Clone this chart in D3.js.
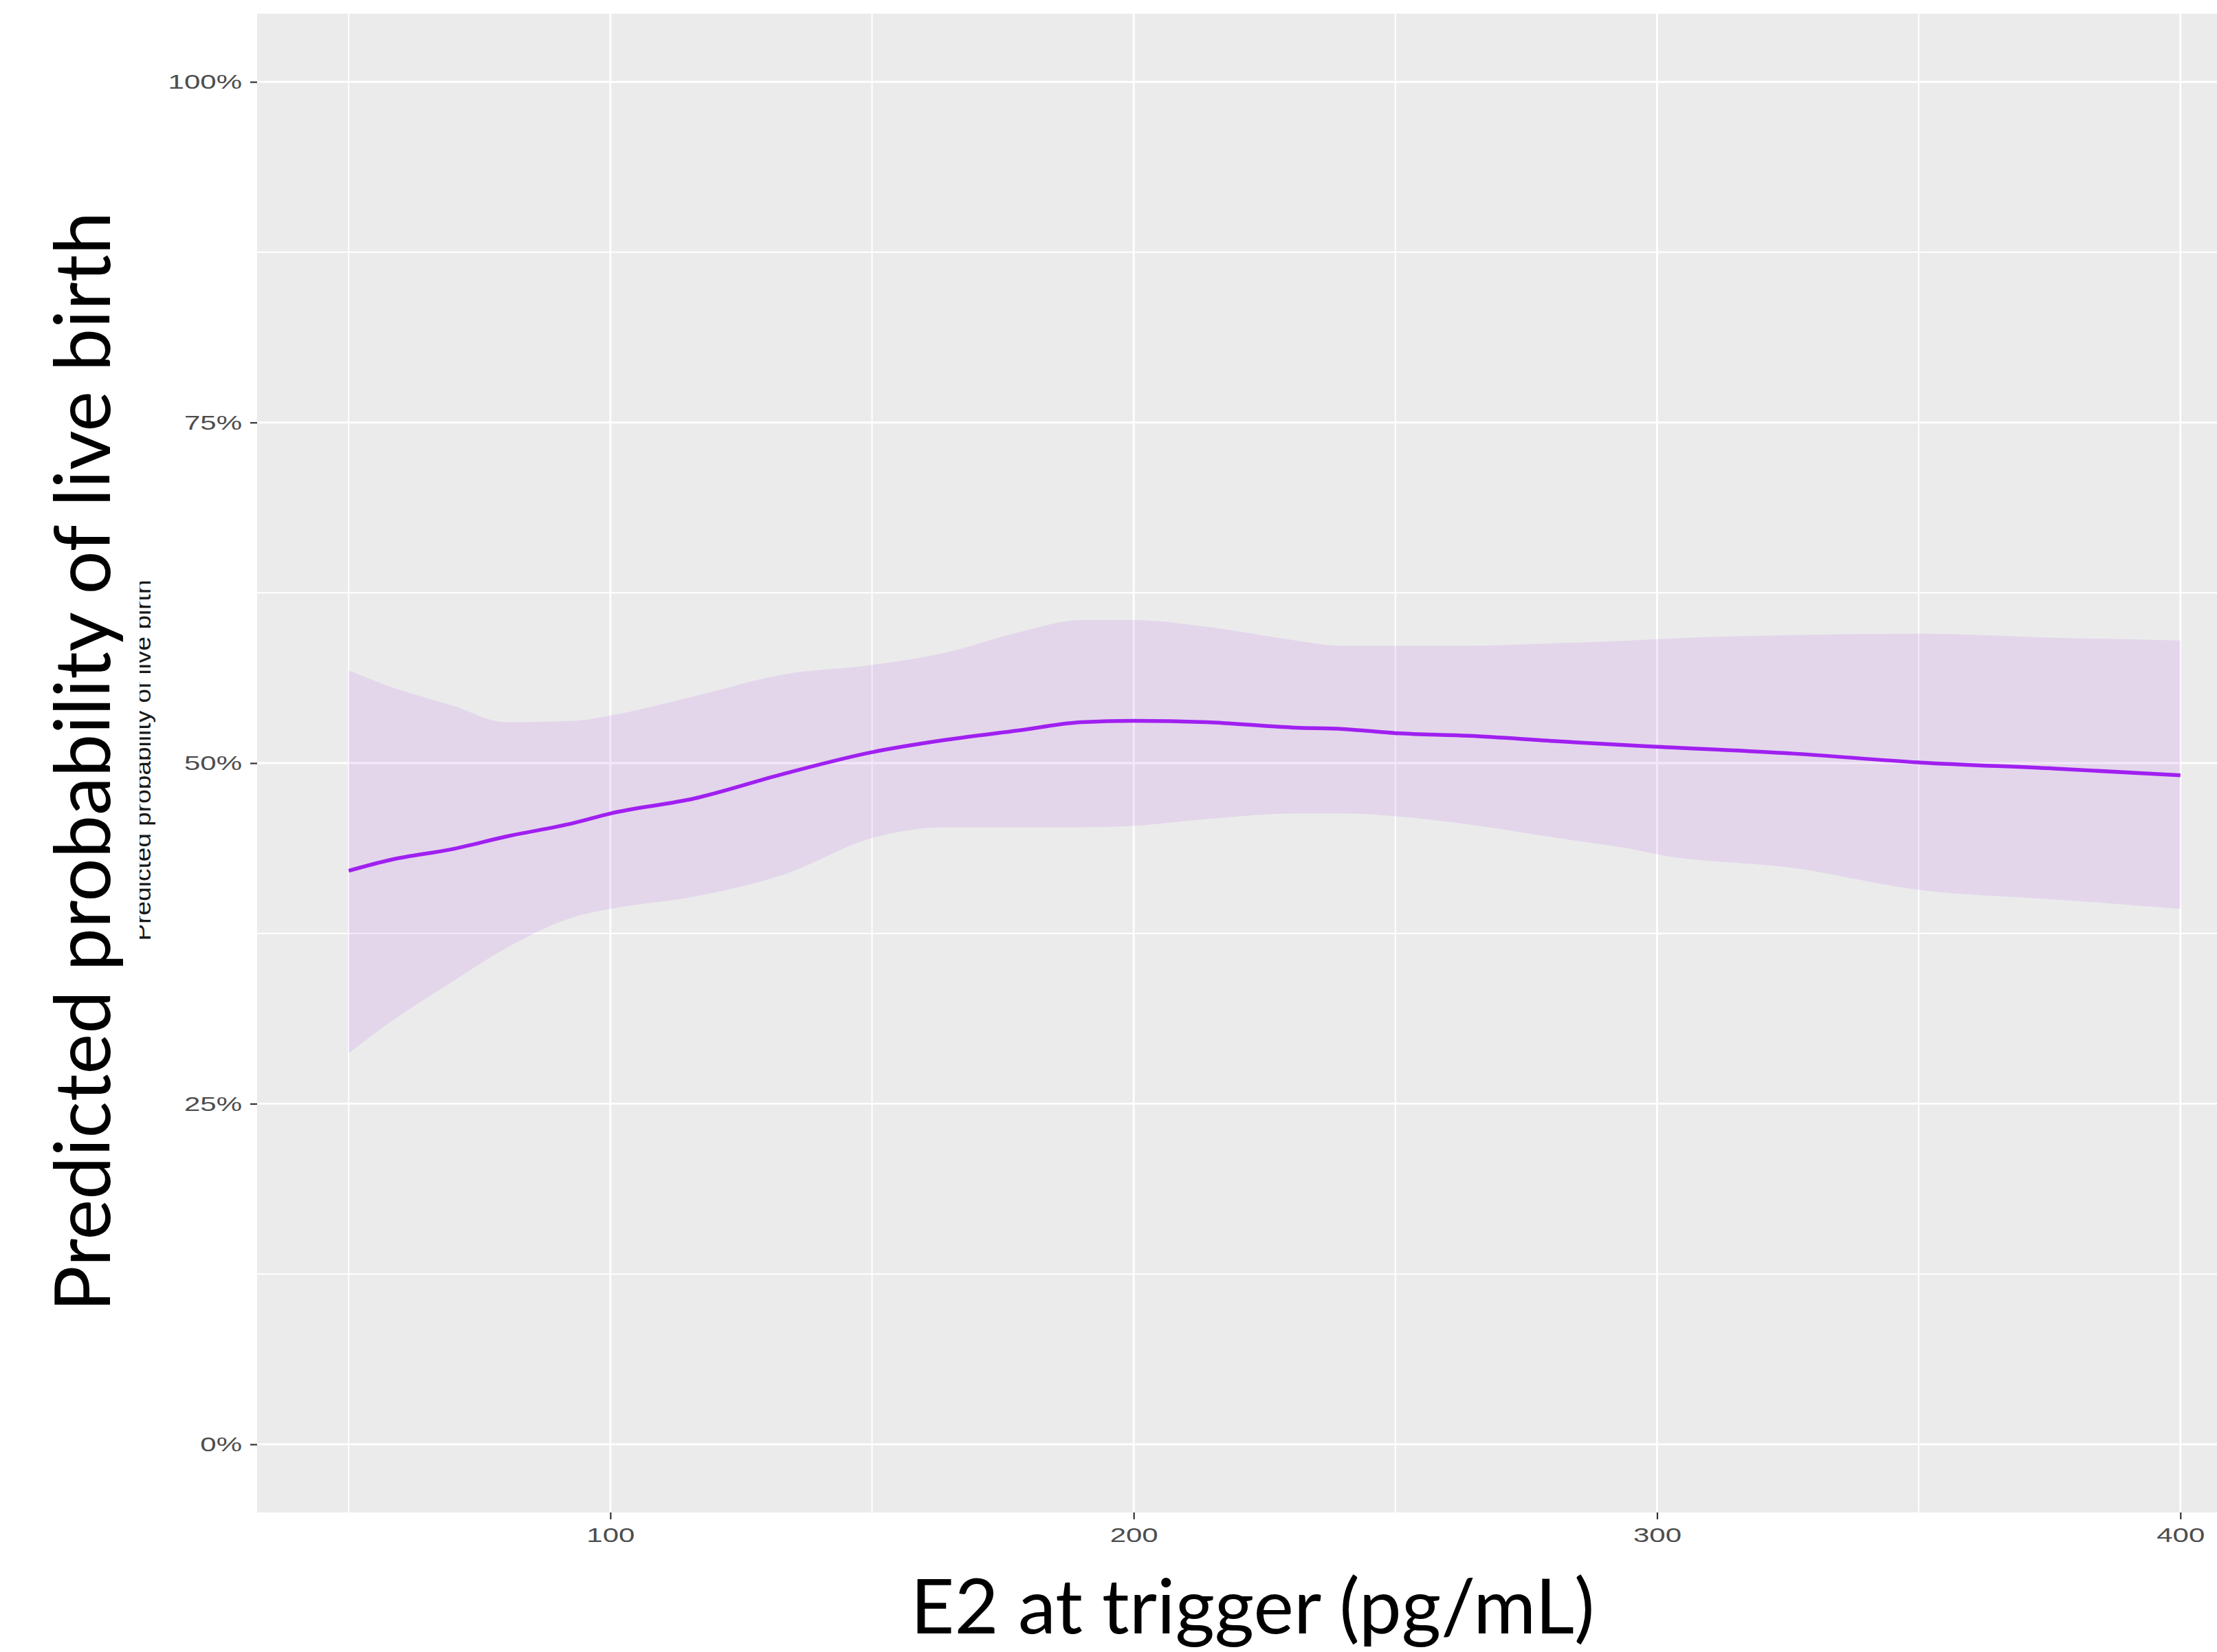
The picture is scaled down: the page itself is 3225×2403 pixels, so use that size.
<!DOCTYPE html>
<html>
<head>
<meta charset="utf-8">
<script src="https://cdn.jsdelivr.net/npm/d3@7"></script>
<style>
  body { margin: 0; background: #fff; }
  svg { display: block; }
</style>
</head>
<body>
<div id="viz"></div>
<script>
// values (E2 at trigger vs predicted probability)
var e2 = [50, 58, 70, 80, 93, 100, 116, 133, 150, 164, 178, 190, 200, 214, 231, 240, 250, 264, 281, 295, 300, 326, 350, 376, 400];
var fit = [.421, .429, .437, .446, .456, .463, .474, .492, .508, .517, .524, .530, .531, .530, .526, .525, .522, .520, .516, .513, .512, .507, .5005, .496, .491];
var upper = [.568, .556, .542, .530, .531, .535, .549, .565, .572, .581, .596, .605, .605, .600, .590, .586, .586, .586, .588, .590, .591, .594, .595, .592, .590];
var lower = [.287, .310, .340, .364, .387, .393, .402, .418, .445, .453, .453, .453, .454, .459, .463, .463, .461, .455, .445, .437, .433, .423, .407, .400, .393];

var xTicks = [100, 200, 300, 400];
var xMinor = [50, 150, 250, 350];
var yTicks = [0, .25, .5, .75, 1];
var yMinor = [.125, .375, .625, .875];

var xTitle = 'E2 at trigger (pg/mL)';
var yTitle = 'Predicted probability of live birth';

var W = 3225, H = 2403;
var panel = { left: 374, top: 20, bottom: 2200 };

var data = e2.map(function(d, i) {
  return { x: d, fit: fit[i], lo: lower[i], hi: upper[i] };
});

// ggplot style 5% expansion of 50..400 and 0..1
var x = d3.scaleLinear().domain([32.5, 417.5]).range([panel.left, panel.left + 385 * 7.613]);
var y = d3.scaleLinear().domain([-0.05, 1.05]).range([panel.bottom, panel.top]);

var svg = d3.select('#viz').append('svg')
  .attr('width', W)
  .attr('height', H);

svg.append('rect')
  .attr('x', panel.left)
  .attr('y', panel.top)
  .attr('width', x.range()[1] - panel.left)
  .attr('height', panel.bottom - panel.top)
  .attr('fill', '#EBEBEB');

var grid = svg.append('g');
grid.selectAll('.hminor').data(yMinor).enter().append('line')
  .attr('x1', panel.left).attr('x2', x.range()[1])
  .attr('y1', y).attr('y2', y)
  .attr('stroke', '#fff').attr('stroke-width', 2);
grid.selectAll('.vminor').data(xMinor).enter().append('line')
  .attr('y1', panel.top).attr('y2', panel.bottom)
  .attr('x1', x).attr('x2', x)
  .attr('stroke', '#fff').attr('stroke-width', 2);
grid.selectAll('.hmajor').data(yTicks).enter().append('line')
  .attr('x1', panel.left).attr('x2', x.range()[1])
  .attr('y1', y).attr('y2', y)
  .attr('stroke', '#fff').attr('stroke-width', 2.8);
grid.selectAll('.vmajor').data(xTicks).enter().append('line')
  .attr('y1', panel.top).attr('y2', panel.bottom)
  .attr('x1', x).attr('x2', x)
  .attr('stroke', '#fff').attr('stroke-width', 2.8);

// confidence ribbon
var band = d3.area()
  .x(function(d) { return x(d.x); })
  .y0(function(d) { return y(d.lo); })
  .y1(function(d) { return y(d.hi); })
  .curve(d3.curveMonotoneX);

svg.append('path')
  .datum(data)
  .attr('d', band)
  .attr('fill', '#A020F0')
  .attr('fill-opacity', 0.1);

var line = d3.line()
  .x(function(d) { return x(d.x); })
  .y(function(d) { return y(d.fit); })
  .curve(d3.curveMonotoneX);

svg.append('path')
  .datum(data)
  .attr('d', line)
  .attr('fill', 'none')
  .attr('stroke', '#A020F0')
  .attr('stroke-width', 5.5);

// axes
var yAxis = d3.axisLeft(y)
  .tickValues(yTicks)
  .tickFormat(d3.format('.0%'))
  .tickSize(10)
  .tickPadding(12);

var xAxis = d3.axisBottom(x)
  .tickValues(xTicks)
  .tickSize(10)
  .tickPadding(12);

var yGuide = svg.append('g')
  .attr('transform', 'translate(' + panel.left + ',0)')
  .call(yAxis);
var xGuide = svg.append('g')
  .attr('transform', 'translate(0,' + panel.bottom + ')')
  .call(xAxis);

// the plot was stretched sideways when pasted, so the tick text is wider than normal
[yGuide, xGuide].forEach(function(g) {
  g.select('.domain').remove();
  g.selectAll('line').attr('stroke', '#333333').attr('stroke-width', 2.2);
  g.selectAll('text')
    .attr('font-family', '"Liberation Sans", Arial, sans-serif')
    .attr('font-size', 30)
    .attr('fill', '#4D4D4D')
    .each(function() {
      var w = this.getComputedTextLength();
      d3.select(this)
        .attr('textLength', w * 1.4)
        .attr('lengthAdjust', 'spacingAndGlyphs');
    });
});

// the original small ggplot title, partly hidden behind the big one
svg.append('clipPath').attr('id', 'cut')
  .append('rect').attr('x', 203).attr('y', 0).attr('width', 200).attr('height', H);

svg.append('g')
  .attr('clip-path', 'url(#cut)')
  .append('text')
  .attr('transform', 'translate(219,1106) rotate(-90)')
  .attr('text-anchor', 'middle')
  .attr('font-family', '"Liberation Sans", Arial, sans-serif')
  .attr('font-size', 33)
  .attr('fill', '#1A1A1A')
  .attr('textLength', 525)
  .attr('lengthAdjust', 'spacingAndGlyphs')
  .text(yTitle);

// big slide titles, sized to the width they take in the reference
function fitText(sel, target) {
  var w = sel.node().getComputedTextLength();
  var fs = +sel.attr('font-size');
  sel.attr('font-size', fs * target / w);
}

var yLab = svg.append('text')
  .attr('transform', 'translate(160,1108) rotate(-90)')
  .attr('text-anchor', 'middle')
  .attr('font-family', 'Lato, "Open Sans", sans-serif')
  .attr('font-size', 115)
  .attr('fill', '#000')
  .text(yTitle);
fitText(yLab, 1600);

var xLab = svg.append('text')
  .attr('x', 1822)
  .attr('y', 2376)
  .attr('text-anchor', 'middle')
  .attr('font-family', 'Lato, "Open Sans", sans-serif')
  .attr('font-size', 118)
  .attr('fill', '#000')
  .text(xTitle);
fitText(xLab, 995);
</script>
</body>
</html>
